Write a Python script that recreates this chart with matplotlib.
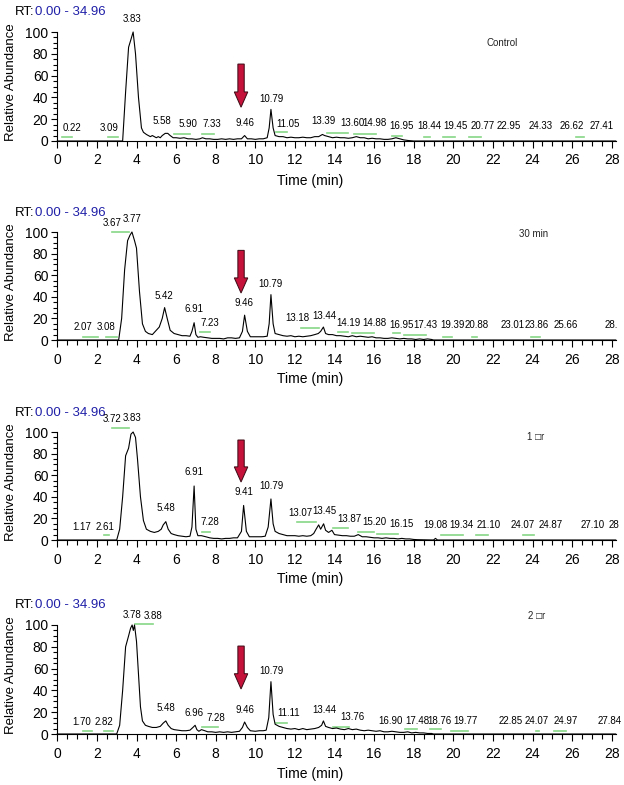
import matplotlib
matplotlib.use("Agg")
import matplotlib.pyplot as plt
from matplotlib.patches import FancyArrow
from matplotlib.ticker import MultipleLocator

plt.rcParams['font.family'] = ['Liberation Sans', 'DejaVu Sans']

# ---------------- data ----------------
# Panel 1: Control
control_t = [0, 3.3, 3.45, 3.6, 3.7, 3.83, 3.95, 4.1, 4.25, 4.35,
             4.5, 4.6, 4.7, 4.8, 4.9, 5.0, 5.1, 5.2, 5.3, 5.45,
             5.58, 5.7, 5.85, 6.0, 6.2, 6.4, 6.6, 6.8, 7.0, 7.2,
             7.33, 7.5, 7.7, 7.9, 8.1, 8.3, 8.5, 8.7, 8.9, 9.1,
             9.3, 9.46, 9.6, 9.8, 10.0, 10.2, 10.4, 10.6, 10.7, 10.79,
             10.9, 11.0, 11.2, 11.4, 11.6, 11.8, 12.0, 12.2, 12.4, 12.6,
             12.8, 13.0, 13.2, 13.39, 13.5, 13.7, 13.9, 14.1, 14.3, 14.5,
             14.7, 14.9, 15.1, 15.3, 15.5, 15.7, 15.9, 16.1, 16.3, 16.5,
             16.7, 16.9, 17.1, 17.3, 17.5, 17.7, 18.0, 28.2]
control_y = [0, 0, 45, 86, 92, 100, 80, 40, 12, 8,
             6, 5, 4, 5, 4, 3, 4, 3, 5, 7,
             7, 5, 3, 3, 2.5, 3, 2, 2, 1.5, 2,
             3, 2, 2, 1.5, 1.5, 2, 1.5, 2, 1.5, 2,
             2, 5, 2, 2, 1.5, 2, 2, 3, 12, 29,
             12, 5, 4, 4, 3, 3.5, 3, 3, 3.5, 3,
             3, 4, 4, 6, 5, 4, 3, 3.5, 3, 3,
             2.5, 3, 4, 3, 3, 2, 2.5, 2, 2, 1.5,
             1.5, 2, 3, 2, 1, 0.5, 0, 0]

# Panel 2: 30 min
min30_t = [0, 3.1, 3.25, 3.4, 3.55, 3.67, 3.77, 3.9, 4.0, 4.15,
           4.3, 4.45, 4.6, 4.8, 5.0, 5.15, 5.3, 5.42, 5.55, 5.7,
           5.9, 6.1, 6.3, 6.5, 6.7, 6.8, 6.91, 7.0, 7.1, 7.23,
           7.4, 7.6, 7.8, 8.0, 8.2, 8.4, 8.6, 8.8, 9.0, 9.2,
           9.35, 9.46, 9.6, 9.75, 10.0, 10.2, 10.4, 10.6, 10.7, 10.79,
           10.9, 11.0, 11.2, 11.4, 11.6, 11.8, 12.0, 12.2, 12.4, 12.6,
           12.8, 13.0, 13.18, 13.3, 13.44, 13.55, 13.7, 13.9, 14.1, 14.3,
           14.5, 14.7, 14.9, 15.1, 15.3, 15.5, 15.7, 15.9, 16.1, 16.3,
           16.5, 16.7, 16.9, 17.1, 17.3, 17.5, 17.7, 17.9, 18.1, 18.3,
           18.5, 18.7, 18.9, 19.0, 28.2]
min30_y = [0, 0, 20, 65, 92, 97, 100, 92, 85, 45,
           15, 8, 6, 5, 9, 12, 20, 30, 20, 9,
           6, 5, 4, 4, 3.5, 8, 16, 5, 2.5, 3,
           2.5, 2, 1.5, 1.5, 1.5, 1, 2, 2, 1.5, 2,
           8, 23, 8, 3, 3, 3, 3, 3.5, 15, 42,
           15, 6, 5, 4, 3.5, 4, 3, 3.5, 3, 3.5,
           4, 5, 6, 8, 12, 6, 5, 5, 4, 4,
           3.5, 3, 4, 3, 3.5, 3, 2.5, 3, 2, 2,
           1.5, 1.5, 2, 1.5, 1, 1.5, 1, 1, 0.5, 1,
           0.5, 1, 0.5, 0, 0]

# Panel 3: 1 hr
hr1_t = [0, 3.0, 3.15, 3.3, 3.45, 3.6, 3.72, 3.83, 3.95, 4.05,
         4.2, 4.35, 4.5, 4.7, 4.9, 5.1, 5.25, 5.35, 5.48, 5.6,
         5.75, 5.9, 6.1, 6.3, 6.5, 6.7, 6.8, 6.91, 7.0, 7.1,
         7.28, 7.5, 7.7, 7.9, 8.1, 8.3, 8.5, 8.7, 8.9, 9.1,
         9.3, 9.41, 9.55, 9.7, 9.9, 10.1, 10.3, 10.5, 10.65, 10.79,
         10.9, 11.0, 11.2, 11.4, 11.6, 11.8, 12.0, 12.2, 12.4, 12.6,
         12.8, 12.95, 13.07, 13.2, 13.3, 13.45, 13.55, 13.7, 13.87, 14.0,
         14.2, 14.4, 14.6, 14.8, 15.0, 15.2, 15.4, 15.6, 15.8, 16.0,
         16.2, 16.4, 16.6, 16.8, 17.0, 17.2, 17.4, 17.6, 17.8, 18.0,
         18.2, 19.0, 19.1, 19.2, 28.2]
hr1_y = [0, 0, 10, 40, 78, 85, 98, 100, 95, 75,
         40, 18, 10, 8, 7, 8, 10, 14, 17, 10,
         6, 5, 4, 3.5, 3, 3.5, 12, 50, 10, 4,
         4, 3, 2, 1.5, 1.5, 1, 1.5, 1.5, 2, 2,
         8, 32, 8, 3, 3, 3, 3, 3.5, 12, 38,
         15, 8, 6, 5, 4, 4, 4, 3.5, 4, 3.5,
         4, 6, 10, 14, 10, 15, 9, 7, 9, 5,
         4.5, 4, 4, 3.5, 3.5, 5, 3, 3, 2.5, 2,
         2, 1.5, 2, 1.5, 1.5, 1, 1.5, 1, 1, 0.5,
         0.3, 0, 1.5, 0, 0]

# Panel 4: 2 hr
hr2_t = [0, 3.0, 3.15, 3.3, 3.45, 3.6, 3.7, 3.78, 3.84, 3.9,
         4.0, 4.1, 4.2, 4.3, 4.45, 4.6, 4.8, 5.0, 5.2, 5.35,
         5.48, 5.6, 5.75, 5.9, 6.1, 6.3, 6.5, 6.7, 6.85, 6.96,
         7.05, 7.15, 7.28, 7.45, 7.6, 7.8, 8.0, 8.2, 8.4, 8.6,
         8.8, 9.0, 9.2, 9.35, 9.46, 9.6, 9.75, 10.0, 10.2, 10.4,
         10.55, 10.68, 10.79, 10.9, 11.0, 11.2, 11.4, 11.6, 11.8, 12.0,
         12.2, 12.4, 12.6, 12.8, 13.0, 13.2, 13.35, 13.44, 13.55, 13.7,
         13.9, 14.1, 14.3, 14.5, 14.7, 14.9, 15.1, 15.3, 15.5, 15.7,
         15.9, 16.1, 16.3, 16.5, 16.7, 16.9, 17.1, 17.3, 17.5, 17.7,
         17.9, 18.1, 18.3, 18.5, 18.7, 18.9, 19.0, 28.2]
hr2_y = [0, 0, 8, 40, 80, 90, 97, 100, 95, 100,
         85, 55, 25, 12, 8, 7, 6, 6, 7, 10,
         12, 8, 5, 4, 3.5, 3, 3, 3.5, 6, 8,
         4, 2.5, 4, 3, 2, 2, 1.5, 2, 1.5, 2,
         1.5, 2, 2.5, 6, 11, 6, 3, 2.5, 3, 3,
         3.5, 15, 48, 18, 9, 7, 6, 5, 4.5, 5,
         4, 5, 4, 4.5, 5, 6, 8, 12, 7, 6,
         5, 5.5, 4.5, 4, 5, 4, 4.5, 3.5, 3, 3.5,
         3, 2.5, 3, 2, 2, 2.5, 2, 1.5, 1.5, 2,
         1, 1.5, 1, 1, 0.5, 0.5, 0, 0]

# Peak labels (text, retention-time position, height)
control_lbl = ["0.22", "3.09", "3.83", "5.58", "5.90", "7.33", "9.46", "10.79", "11.05",
               "13.39", "13.60", "14.98", "16.95", "18.44", "19.45", "20.77", "22.95",
               "24.33", "26.62", "27.41"]
control_lx = [0.74, 2.6, 3.8, 5.3, 6.6, 7.8, 9.5, 10.8, 11.65,
              13.45, 14.9, 16.0, 17.4, 18.8, 20.1, 21.5, 22.8, 24.4, 26.0, 27.5]
control_ly = [7.5, 7.5, 107, 14, 11, 11, 12, 34, 11,
              14, 12, 12, 9, 9, 9, 9, 9, 9, 9, 9]

min30_lbl = ["2.07", "3.08", "3.67", "3.77", "5.42", "6.91", "7.23", "9.46", "10.79",
             "13.18", "13.44", "14.19", "14.88", "16.95", "17.43", "19.39", "20.88",
             "23.01", "23.86", "25.66", "28."]
min30_lx = [1.3, 2.45, 2.75, 3.8, 5.4, 6.9, 7.7, 9.45, 10.75,
            12.15, 13.5, 14.7, 16.0, 17.4, 18.6, 19.95, 21.2, 23.0, 24.2, 25.7, 28.0]
min30_ly = [7.4, 7.4, 104, 107, 36, 24, 11, 30, 47,
            16, 17.5, 11, 11, 9, 9, 9, 9, 9, 9, 9, 9]

hr1_lbl = ["1.17", "2.61", "3.72", "3.83", "5.48", "6.91", "7.28", "9.41", "10.79",
           "13.07", "13.45", "13.87", "15.20", "16.15", "19.08", "19.34", "21.10",
           "24.07", "24.87", "27.10", "28"]
hr1_lx = [1.25, 2.4, 2.75, 3.8, 5.5, 6.9, 7.7, 9.45, 10.8,
          12.3, 13.5, 14.75, 16.0, 17.4, 19.1, 20.4, 21.8, 23.5, 24.9, 27.05, 28.1]
hr1_ly = [7.4, 7.4, 107, 108, 25, 58, 12, 40, 45,
          20, 22, 15, 12, 10, 9, 9, 9, 9, 9, 9, 9]

hr2_lbl = ["1.70", "2.82", "3.78", "3.88", "5.48", "6.96", "7.28", "9.46", "10.79",
           "11.11", "13.44", "13.76", "16.90", "17.48", "18.76", "19.77", "22.85",
           "24.07", "24.97", "27.84"]
hr2_lx = [1.25, 2.35, 3.8, 4.85, 5.5, 6.9, 8.0, 9.5, 10.8,
          11.7, 13.5, 14.9, 16.85, 18.2, 19.3, 20.6, 22.9, 24.2, 25.7, 27.9]
hr2_ly = [6.4, 6.4, 105, 104, 19, 15, 10, 17, 53,
          15, 17, 11, 7.6, 7.6, 7.6, 7.6, 7.6, 7.6, 7.6, 7.6]

# Green integration marks (start, end, height)
control_g0 = [0.24, 2.57, 5.9, 7.3, 11.05, 13.6, 15.0, 16.9, 18.5, 19.5, 20.8, 26.2]
control_g1 = [0.74, 3.07, 6.7, 7.9, 11.6, 14.7, 16.1, 17.4, 18.8, 20.1, 21.4, 26.6]
control_gy = [3.7, 3.7, 6, 6, 8, 7, 6, 4.5, 3.7, 3.7, 3.7, 3.7]

min30_g0 = [1.3, 2.45, 2.75, 7.2, 12.3, 14.2, 14.9, 16.95, 17.5, 19.5, 20.95, 23.9]
min30_g1 = [2.05, 3.0, 3.6, 7.7, 13.2, 14.7, 16.0, 17.3, 18.6, 19.95, 21.2, 24.4]
min30_gy = [3, 3, 100, 7, 11, 7.5, 6.5, 6.5, 5, 3, 3, 3]

hr1_g0 = [2.37, 2.75, 7.3, 12.1, 13.9, 15.2, 16.15, 19.4, 21.15, 23.5]
hr1_g1 = [2.6, 3.6, 7.7, 13.05, 14.7, 16.0, 17.2, 20.5, 21.75, 24.1]
hr1_gy = [4.6, 104, 7.4, 16.7, 11, 7.4, 5.5, 4.6, 4.6, 4.6]

hr2_g0 = [1.3, 2.35, 3.93, 7.3, 11.05, 13.9, 17.55, 18.8, 19.9, 24.2, 25.1]
hr2_g1 = [1.75, 2.8, 4.83, 8.1, 11.6, 14.75, 18.15, 19.4, 20.75, 24.35, 25.7]
hr2_gy = [3, 3, 101, 6.4, 10, 6.4, 4.6, 4.6, 3, 3, 3]

panel_names = ["Control", "30 min", "1 \u25a1r", "2 \u25a1r"]
range_text = "0.00 - 34.96"

# red arrow (retention time, top, tip) per panel
arrow_x = 9.28
arrow_top = [70.6, 83, 92.6, 80.7]
arrow_tip = [31, 43.5, 53.7, 41.3]

# ---------------- layout ----------------
W, H = 624, 785
fig = plt.figure(figsize=(W / 100, H / 100), dpi=100)

panels = [
    (control_t, control_y, control_lbl, control_lx, control_ly, control_g0, control_g1, control_gy),
    (min30_t, min30_y, min30_lbl, min30_lx, min30_ly, min30_g0, min30_g1, min30_gy),
    (hr1_t, hr1_y, hr1_lbl, hr1_lx, hr1_ly, hr1_g0, hr1_g1, hr1_gy),
    (hr2_t, hr2_y, hr2_lbl, hr2_lx, hr2_ly, hr2_g0, hr2_g1, hr2_gy),
]
# pixel rows of y=0 and y=100 for each panel
zero_px = [141, 340, 540, 734]
top_px = [32, 232, 432, 625]
name_pos = [(0.796, 0.90), (0.853, 0.98), (0.856, 0.955), (0.858, 1.083)]

x_left_px = 57.3
xmax = 28.2
px_per_min = 19.8

for i, (t, y, lbl, lx, ly, g0, g1, gy) in enumerate(panels):
    left = x_left_px / W
    width = px_per_min * xmax / W
    bottom = 1 - zero_px[i] / H
    height = (zero_px[i] - top_px[i]) / H
    ax = fig.add_axes([left, bottom, width, height])
    ax.set_xlim(0, xmax)
    ax.set_ylim(0, 100)
    ax.plot(t, y, color='black', lw=0.8, clip_on=False, zorder=3)
    for a, b, c in zip(g0, g1, gy):
        ax.plot([a, b], [c, c], color='#86d686', lw=1.2, clip_on=False, zorder=2)
    for s, xx, yy in zip(lbl, lx, ly):
        ax.text(xx, yy, s, fontsize=7, ha='center', va='bottom', clip_on=False, zorder=4)

    arr = FancyArrow(arrow_x, arrow_top[i], 0, arrow_tip[i] - arrow_top[i],
                     width=0.32, head_width=0.68, head_length=14,
                     length_includes_head=True, facecolor='#c4123a',
                     edgecolor='#3a0a14', lw=0.7, zorder=5, clip_on=False)
    ax.add_patch(arr)

    for sp in ['top', 'right']:
        ax.spines[sp].set_visible(False)
    ax.spines['left'].set_bounds(0, 100)
    ax.spines['left'].set_linewidth(0.8)
    ax.spines['bottom'].set_linewidth(0.8)

    ax.xaxis.set_major_locator(MultipleLocator(2))
    ax.xaxis.set_minor_locator(MultipleLocator(0.5))
    ax.yaxis.set_major_locator(MultipleLocator(20))
    ax.yaxis.set_minor_locator(MultipleLocator(5))
    ax.tick_params(axis='x', which='major', length=5, width=0.8, pad=4, labelsize=10)
    ax.tick_params(axis='x', which='minor', length=3.5, width=0.8)
    ax.tick_params(axis='y', which='major', length=4.5, width=0.8, pad=2, labelsize=10)
    ax.tick_params(axis='y', which='minor', length=3, width=0.8)

    ax.set_ylabel("Relative Abundance", fontsize=9.5)
    ax.yaxis.set_label_coords(-0.072, 0.54)
    ax.set_xlabel("Time (min)", fontsize=10)
    ax.xaxis.set_label_coords(0.453, -0.30)

    ax.text(-0.0755, 1.18, "RT:", transform=ax.transAxes, fontsize=9.5,
            ha='left', va='center', color='black')
    ax.text(-0.0755 + 0.036, 1.18, range_text, transform=ax.transAxes, fontsize=9.5,
            ha='left', va='center', color='#1f1fa8')
    ax.text(name_pos[i][0], name_pos[i][1], panel_names[i], transform=ax.transAxes,
            fontsize=7, ha='center', va='center', color='#222222')

fig.savefig("out.png", dpi=100)
